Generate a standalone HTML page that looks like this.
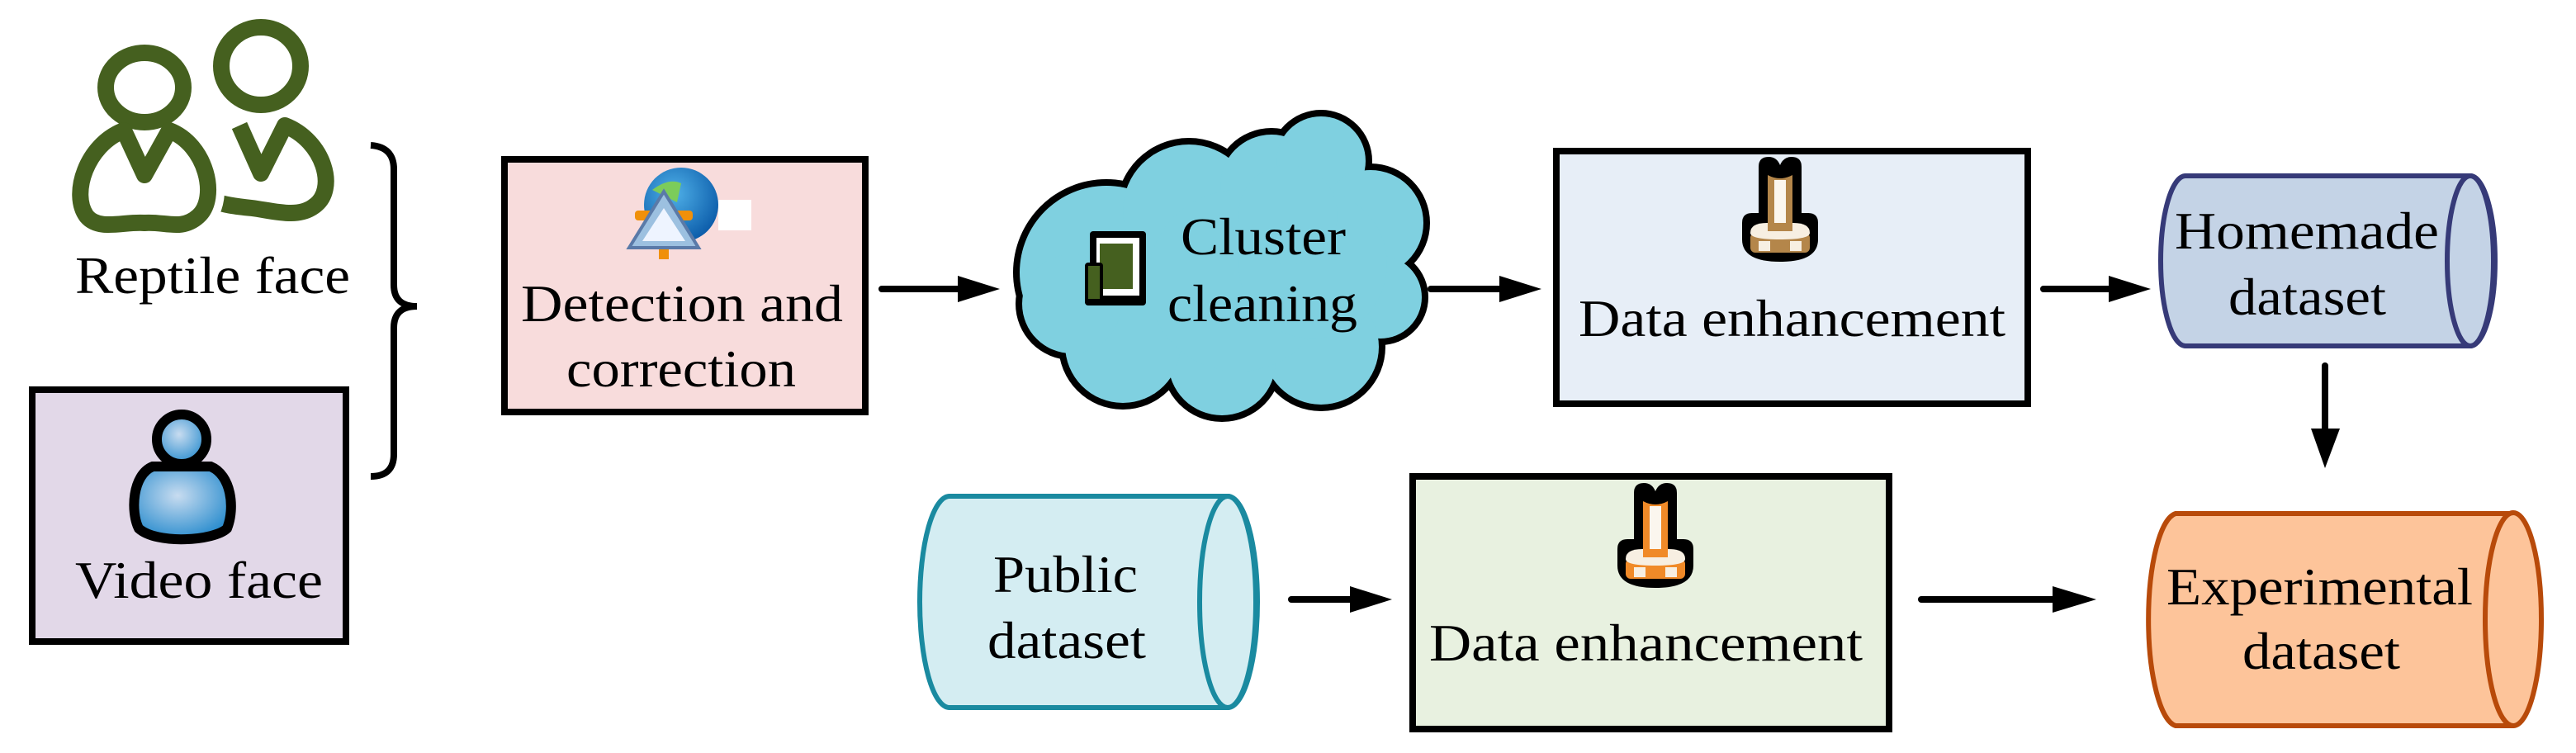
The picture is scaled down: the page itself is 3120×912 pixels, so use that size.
<!DOCTYPE html>
<html><head><meta charset="utf-8"><style>
html,body{margin:0;padding:0;background:#fff;}
svg{display:block;}
</style></head><body>
<svg width="3120" height="912" viewBox="0 0 3120 912" xmlns="http://www.w3.org/2000/svg" font-family="'Liberation Serif', 'Times New Roman', serif" font-size="64">
<defs>
<radialGradient id="bl" cx="0.45" cy="0.4" r="0.6"><stop offset="0" stop-color="#c8dcf0"/><stop offset="1" stop-color="#2f8fcf"/></radialGradient>
<radialGradient id="gl" cx="0.4" cy="0.35" r="0.7"><stop offset="0" stop-color="#4fb0e8"/><stop offset="1" stop-color="#0a5aa8"/></radialGradient>
<g id="pin">
 <path d="M20,12 Q20,0 32,0 Q42,0 46,10 Q50,0 60,0 Q72,0 72,12 L72,68 L80,68 Q92,68 92,80 L92,100 Q92,127 46,127 Q0,127 0,100 L0,80 Q0,68 12,68 L20,68 Z" fill="#000"/>
 <path d="M31,22 Q46,30 61,22 L61,98 L31,98 Z" fill="currentColor"/>
 <rect x="39" y="28" width="14" height="68" fill="#fbf6ee"/>
 <rect x="10" y="92" width="72" height="24" rx="6" fill="currentColor"/>
 <path d="M10,92 Q10,80 30,80 L62,80 Q82,80 82,92 Q82,100 46,100 Q10,100 10,92 Z" fill="#f7efe2"/>
 <rect x="31" y="80" width="30" height="10" fill="currentColor"/>
 <rect x="20" y="102" width="14" height="12" fill="#f7efe2"/>
 <rect x="58" y="102" width="14" height="12" fill="#f7efe2"/>
</g>
</defs>

<!-- People icon -->
<g fill="none" stroke="#45601f" stroke-width="20" stroke-linejoin="round">
 <ellipse cx="316" cy="80" rx="48" ry="47"/>
 <path d="M290,152 L316,210 L345,152 C392,170 410,230 380,250 C360,265 330,255 305,252 C285,250 270,248 262,244"/>
</g>
<path d="M150,158 L175,212 L205,158 C250,175 265,240 240,262 C220,280 200,268 175,270 C150,268 120,280 105,262 C85,235 105,175 150,158 Z" fill="none" stroke="#fff" stroke-width="40"/>
<g fill="none" stroke="#45601f" stroke-width="20" stroke-linejoin="round">
 <ellipse cx="175" cy="106" rx="47" ry="42"/>
 <path d="M150,158 L175,212 L205,158 C250,175 265,240 240,262 C220,280 200,268 175,270 C150,268 120,280 105,262 C85,235 105,175 150,158 Z"/>
</g>
<text x="91" y="355" textLength="333" lengthAdjust="spacingAndGlyphs">Reptile face</text>

<!-- Brace -->
<path d="M449,176 Q477,178 477,205 L477,345 Q477,371 505,371 Q477,371 477,397 L477,550 Q477,577 449,577" fill="none" stroke="#000" stroke-width="8"/>

<!-- Video face box -->
<rect x="39" y="472" width="380" height="305" fill="#e2d8e8" stroke="#000" stroke-width="8"/>
<path d="M185,565 C160,575 158,620 168,640 C190,660 260,655 275,640 C285,615 280,575 255,565 Z" fill="url(#bl)" stroke="#000" stroke-width="12"/>
<circle cx="220" cy="532" r="30" fill="url(#bl)" stroke="#000" stroke-width="12"/>
<text x="91" y="724" textLength="300" lengthAdjust="spacingAndGlyphs">Video face</text>

<!-- Detection box -->
<rect x="611" y="193" width="437" height="306" fill="#f8dcdc" stroke="#000" stroke-width="8"/>
<circle cx="825" cy="248" r="45" fill="url(#gl)"/>
<path d="M790,230 Q810,215 825,222 L820,245 Z" fill="#7ccc5a"/>
<rect x="769" y="255" width="70" height="12" rx="4" fill="#f0900a"/>
<rect x="798" y="300" width="12" height="14" fill="#f0900a"/>
<path d="M804,232 L846,300 L762,300 Z" fill="#9cc0e0" stroke="#5a7aa8" stroke-width="4"/>
<path d="M804,252 L830,292 L778,292 Z" fill="#eef4ff"/>
<rect x="870" y="242" width="40" height="37" fill="#fff"/>
<text x="631" y="389" textLength="390" lengthAdjust="spacingAndGlyphs">Detection and</text>
<text x="686" y="468" textLength="278" lengthAdjust="spacingAndGlyphs">correction</text>

<!-- Arrows -->
<g stroke="#000" stroke-width="8" stroke-linecap="round" fill="#000">
 <line x1="1068" y1="350" x2="1165" y2="350"/><path d="M1160,334 L1211,350 L1160,366 Z" stroke="none"/>
 <line x1="1733" y1="350" x2="1820" y2="350"/><path d="M1816,334 L1867,350 L1816,366 Z" stroke="none"/>
 <line x1="2475" y1="350" x2="2558" y2="350"/><path d="M2554,334 L2605,350 L2554,366 Z" stroke="none"/>
 <line x1="2816" y1="443" x2="2816" y2="522"/><path d="M2799,519 L2816,567 L2834,519 Z" stroke="none"/>
 <line x1="1564" y1="726" x2="1640" y2="726"/><path d="M1635,710 L1686,726 L1635,742 Z" stroke="none"/>
 <line x1="2327" y1="726" x2="2490" y2="726"/><path d="M2486,710 L2539,726 L2486,742 Z" stroke="none"/>
</g>

<!-- Cloud -->
<g fill="#000">
 <circle cx="1340" cy="330" r="113"/><circle cx="1440" cy="255" r="88"/><circle cx="1540" cy="225" r="70"/>
 <circle cx="1600" cy="195" r="62"/><circle cx="1660" cy="270" r="72"/><circle cx="1672" cy="360" r="58"/><circle cx="1600" cy="420" r="78"/>
 <circle cx="1480" cy="438" r="73"/><circle cx="1360" cy="418" r="78"/><circle cx="1298" cy="368" r="68"/>
 <circle cx="1500" cy="340" r="118"/>
</g>
<g fill="#7fd0e0">
 <circle cx="1340" cy="330" r="105"/><circle cx="1440" cy="255" r="80"/><circle cx="1540" cy="225" r="62"/>
 <circle cx="1600" cy="195" r="54"/><circle cx="1660" cy="270" r="64"/><circle cx="1672" cy="360" r="50"/><circle cx="1600" cy="420" r="70"/>
 <circle cx="1480" cy="438" r="65"/><circle cx="1360" cy="418" r="70"/><circle cx="1298" cy="368" r="60"/>
 <circle cx="1500" cy="340" r="110"/>
 <circle cx="1590" cy="320" r="90"/><circle cx="1560" cy="260" r="60"/>
</g>
<rect x="1320" y="280" width="68" height="90" rx="4" fill="#000"/>
<rect x="1328" y="288" width="52" height="70" fill="#fff"/>
<rect x="1332" y="295" width="40" height="55" fill="#45601f"/>
<rect x="1314" y="318" width="22" height="52" rx="4" fill="#000"/>
<rect x="1318" y="322" width="14" height="40" fill="#45601f"/>
<text x="1430" y="308" textLength="200" lengthAdjust="spacingAndGlyphs">Cluster</text>
<text x="1414" y="389" textLength="230" lengthAdjust="spacingAndGlyphs">cleaning</text>

<!-- Data enhancement 1 -->
<rect x="1885" y="183" width="571" height="306" fill="#e7eef7" stroke="#000" stroke-width="8"/>
<use href="#pin" x="2110" y="190" style="color:#b4864a"/>
<text x="1912" y="407" textLength="517" lengthAdjust="spacingAndGlyphs">Data enhancement</text>

<!-- Homemade cylinder -->
<path d="M2647,213 H2992 A30,103 0 0 1 2992,419 H2647 A30,103 0 0 1 2647,213 Z" fill="#c4d3e6" stroke="#363a78" stroke-width="6"/>
<ellipse cx="2992" cy="316" rx="28" ry="103" fill="#c4d3e6" stroke="#363a78" stroke-width="6"/>
<text x="2634" y="301" textLength="320" lengthAdjust="spacingAndGlyphs">Homemade</text>
<text x="2699" y="381" textLength="191" lengthAdjust="spacingAndGlyphs">dataset</text>

<!-- Public cylinder -->
<path d="M1150,601 H1487 A36,128 0 0 1 1487,857 H1150 A36,128 0 0 1 1150,601 Z" fill="#d4edf2" stroke="#1a8aa0" stroke-width="6"/>
<ellipse cx="1487" cy="729" rx="34" ry="128" fill="#d4edf2" stroke="#1a8aa0" stroke-width="6"/>
<text x="1203" y="717" textLength="175" lengthAdjust="spacingAndGlyphs">Public</text>
<text x="1196" y="797" textLength="192" lengthAdjust="spacingAndGlyphs">dataset</text>

<!-- Data enhancement 2 -->
<rect x="1711" y="577" width="577" height="306" fill="#e8f1e0" stroke="#000" stroke-width="8"/>
<use href="#pin" x="1959" y="585" style="color:#f08a28"/>
<text x="1731" y="800" textLength="525" lengthAdjust="spacingAndGlyphs">Data enhancement</text>

<!-- Experimental cylinder -->
<path d="M2635,622 H3044 A36,129 0 0 1 3044,879 H2635 A36,129 0 0 1 2635,622 Z" fill="#fdc49a" stroke="#b84a0a" stroke-width="6"/>
<ellipse cx="3044" cy="750" rx="34" ry="129" fill="#fdc49a" stroke="#b84a0a" stroke-width="6"/>
<text x="2624" y="732" textLength="371" lengthAdjust="spacingAndGlyphs">Experimental</text>
<text x="2716" y="810" textLength="191" lengthAdjust="spacingAndGlyphs">dataset</text>
</svg>
</body></html>
